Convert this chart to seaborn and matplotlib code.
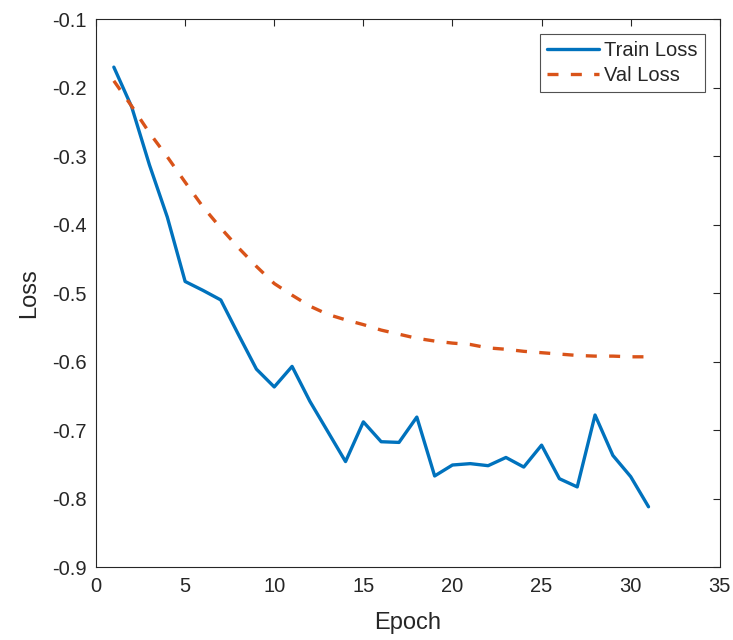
import numpy as np
import pandas as pd
import matplotlib
matplotlib.use("Agg")
import matplotlib.pyplot as plt
import seaborn as sns

# valores
epochs = list(range(1, 32))
train_loss = [-0.170, -0.228, -0.313, -0.389, -0.483, -0.496, -0.510, -0.561,
              -0.611, -0.637, -0.607, -0.658, -0.702, -0.746, -0.688, -0.717,
              -0.718, -0.681, -0.767, -0.751, -0.749, -0.752, -0.740, -0.754,
              -0.722, -0.771, -0.783, -0.678, -0.737, -0.768, -0.812]
val_loss = [-0.190, -0.227, -0.266, -0.301, -0.338, -0.374, -0.405, -0.434,
            -0.461, -0.486, -0.503, -0.519, -0.531, -0.539, -0.546, -0.554,
            -0.560, -0.566, -0.570, -0.573, -0.575, -0.580, -0.582, -0.585,
            -0.587, -0.589, -0.591, -0.592, -0.592, -0.593, -0.593]
series_names = ["Train Loss", "Val Loss"]
x_ticks = [0, 5, 10, 15, 20, 25, 30, 35]
y_ticks = [-0.9, -0.8, -0.7, -0.6, -0.5, -0.4, -0.3, -0.2, -0.1]

df = pd.DataFrame({
    "Epoch": epochs * 2,
    "Loss": train_loss + val_loss,
    "serie": [series_names[0]] * len(epochs) + [series_names[1]] * len(epochs),
})

sns.set_style("white")
plt.rcParams["font.family"] = ["Liberation Sans", "DejaVu Sans"]

fig = plt.figure(figsize=(7.33, 6.4), dpi=100)
ax = fig.add_axes([0.131, 0.114, 0.851, 0.856])

sns.lineplot(data=df, x="Epoch", y="Loss", hue="serie", style="serie",
             palette=["#0072BD", "#D95319"],
             dashes={"Train Loss": "", "Val Loss": (3.3, 3.7)},
             linewidth=2.4, ax=ax)

ax.set_xlim(0, 35)
ax.set_ylim(-0.9, -0.1)
ax.set_xticks(x_ticks)
ax.set_yticks(y_ticks)
ax.set_xticklabels([str(t) for t in x_ticks])
ax.set_yticklabels([f"{t:.1f}" for t in y_ticks])
ax.tick_params(direction="in", length=5, width=0.8, colors="#262626",
               labelsize=14.5, top=True, right=True, pad=7)
for s in ax.spines.values():
    s.set_color("#262626"); s.set_linewidth(0.8)
ax.set_xlabel("Epoch", fontsize=17, color="#262626", labelpad=12)
ax.set_ylabel("Loss", fontsize=17, color="#262626", labelpad=8)

leg = ax.legend(loc="upper right", fontsize=14.5, frameon=True, fancybox=False,
                edgecolor="#262626", handlelength=2.6, borderaxespad=0.75,
                handletextpad=0.25, labelspacing=0.3, borderpad=0.35)
leg.get_frame().set_linewidth(0.8)

fig.savefig("out.png", dpi=100)
